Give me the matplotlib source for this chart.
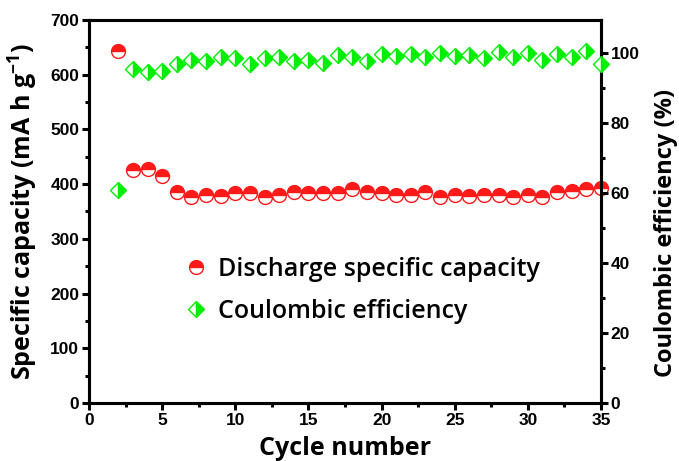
import matplotlib
matplotlib.use("Agg")
import matplotlib.pyplot as plt
from matplotlib.ticker import MultipleLocator
from matplotlib.font_manager import FontProperties

cycles_cap = [2, 3, 4, 5, 6, 7, 8, 9, 10, 11, 12, 13, 14, 15, 16, 17, 18, 19, 20,
              21, 22, 23, 24, 25, 26, 27, 28, 29, 30, 31, 32, 33, 34, 35]
capacity = [644, 425, 427, 415, 386, 377, 380, 379, 383, 384, 377, 381, 386, 383, 383, 383, 392, 386, 383,
            380, 380, 386, 377, 380, 378, 380, 380, 376, 380, 376, 385, 388, 391, 393]
cycles_ce = cycles_cap
efficiency = [61.0, 95.6, 94.7, 94.9, 96.8, 98.2, 97.7, 98.9, 98.5, 96.8, 98.5, 98.9, 97.7, 98.2, 97.3, 99.4, 98.9, 97.7, 99.7,
              99.1, 99.7, 98.9, 100.1, 99.1, 99.4, 98.5, 100.4, 98.8, 100.1, 98.0, 99.9, 98.9, 100.7, 97.0]

plt.rcParams["font.family"] = ["Liberation Sans", "DejaVu Sans"]
plt.rcParams["font.weight"] = "bold"
plt.rcParams["mathtext.default"] = "regular"

fig = plt.figure(figsize=(6.79, 4.61), dpi=100)
ax = fig.add_axes([89/679, 1-403/461, 512/679, 383/461])
ax2 = ax.twinx()

red = "#ff1a1a"
green = "#00ee00"
l1, = ax.plot(cycles_cap, capacity, linestyle="none", marker="o", markersize=10,
              fillstyle="top", markerfacecolor=red, markerfacecoloralt="white",
              markeredgecolor=red, markeredgewidth=1.0, clip_on=False, zorder=3,
              label="Discharge specific capacity")
l2, = ax2.plot(cycles_ce, efficiency, linestyle="none", marker="D", markersize=8.5,
               fillstyle="right", markerfacecolor=green, markerfacecoloralt="white",
               markeredgecolor=green, markeredgewidth=1.0, clip_on=False, zorder=3,
               label="Coulombic efficiency")

ax.set_xlim(0, 35)
ax.set_ylim(0, 700)
ax2.set_ylim(0, 109.5)

ax.xaxis.set_major_locator(MultipleLocator(5))
ax.xaxis.set_minor_locator(MultipleLocator(2.5))
ax.yaxis.set_major_locator(MultipleLocator(100))
ax.yaxis.set_minor_locator(MultipleLocator(50))
ax2.yaxis.set_major_locator(MultipleLocator(20))
ax2.yaxis.set_minor_locator(MultipleLocator(10))

for a in (ax, ax2):
    for s in a.spines.values():
        s.set_linewidth(2.2)
    a.tick_params(which="major", length=5, width=2.2, direction="out", pad=2, labelsize=12.5)
    a.tick_params(which="minor", length=3, width=2.2, direction="out")
ax.tick_params(top=False, which="both")

labfont = FontProperties(family="Open Sans", weight="bold", size=18)
rlabfont = FontProperties(family="Open Sans", weight="bold", size=17)
ax.set_xlabel("Cycle number", fontproperties=labfont, labelpad=6)
ax.set_ylabel("Specific capacity (mA h g$^{-1}$)", fontproperties=labfont)
ax2.set_ylabel("Coulombic efficiency (%)", fontproperties=rlabfont)
ax.yaxis.set_label_coords(-0.095, 0.5)
ax2.yaxis.set_label_coords(1.103, 0.445)

leg = ax.legend(handles=[l1, l2], loc="upper left", bbox_to_anchor=(0.138, 0.44),
                frameon=False, handletextpad=0.35, labelspacing=0.68, handlelength=1.1,
                prop=FontProperties(family="Open Sans", weight="semibold", size=18))

fig.savefig("out.png", dpi=100)
